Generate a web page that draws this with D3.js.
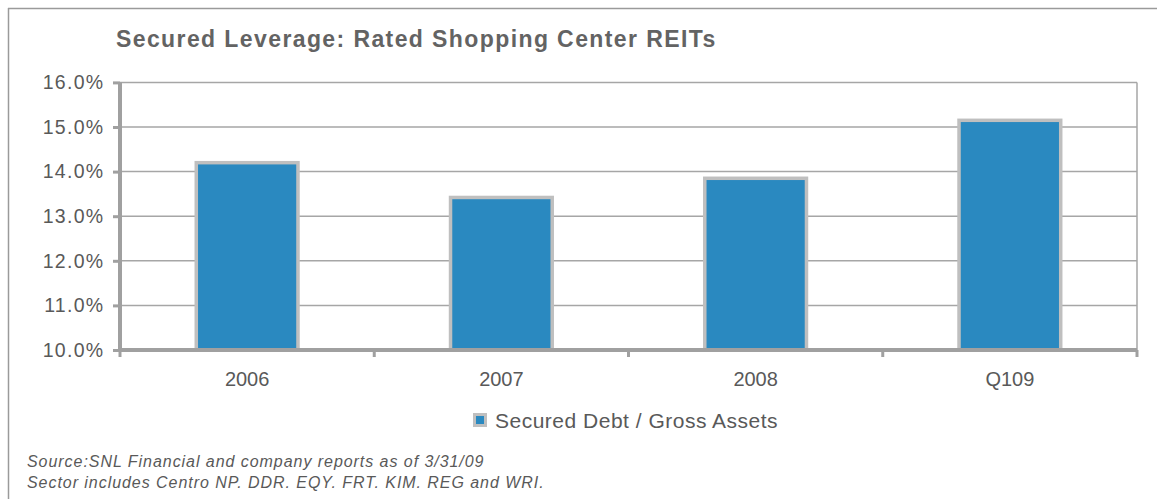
<!DOCTYPE html>
<html>
<head>
<meta charset="utf-8">
<script src="https://cdn.jsdelivr.net/npm/d3@7"></script>
<style>
  html, body { margin: 0; padding: 0; background: #fff; }
  svg { display: block; font-family: "Liberation Sans", Arial, sans-serif; }
</style>
</head>
<body>
<svg id="chart" width="1157" height="499"></svg>
<script>
const categories = ["2006", "2007", "2008", "Q109"];
const values = [14.2, 13.42, 13.85, 15.15];
const yTicks = [10, 11, 12, 13, 14, 15, 16];
const seriesName = "Secured Debt / Gross Assets";
const title = "Secured Leverage: Rated Shopping Center REITs";
const footnotes = [
  "Source:SNL Financial and company reports as of 3/31/09",
  "Sector includes Centro NP. DDR. EQY. FRT. KIM. REG and WRI."
];

const svg = d3.select("#chart");
const W = 1157, H = 499;
const plot = { left: 120, right: 1137, top: 82.4, bottom: 350 };

// outer frame (left + top)
svg.append("line").attr("x1", 8.5).attr("x2", 8.5).attr("y1", 8).attr("y2", H)
  .attr("stroke", "#9a9a9a").attr("stroke-width", 1.5);
svg.append("line").attr("x1", 8).attr("x2", W).attr("y1", 8.5).attr("y2", 8.5)
  .attr("stroke", "#9a9a9a").attr("stroke-width", 1.5);

// title
svg.append("text").attr("x", 116).attr("y", 47)
  .attr("font-size", 23).attr("font-weight", "bold").attr("fill", "#636363")
  .attr("letter-spacing", 1.4)
  .text(title);

const x = d3.scaleBand().domain(categories).range([plot.left, plot.right])
  .paddingInner(0.6).paddingOuter(0.3);
const xCat = d3.scaleBand().domain(categories).range([plot.left, plot.right]).padding(0);
const y = d3.scaleLinear().domain([10, 16]).range([plot.bottom, plot.top]);

// gridlines
svg.append("g").selectAll("line").data(yTicks.filter(t => t > 10)).join("line")
  .attr("x1", plot.left).attr("x2", plot.right)
  .attr("y1", d => y(d)).attr("y2", d => y(d))
  .attr("stroke", "#a6a6a6").attr("stroke-width", 1.5);

// right border of plot
svg.append("line").attr("x1", plot.right).attr("x2", plot.right)
  .attr("y1", plot.top).attr("y2", plot.bottom)
  .attr("stroke", "#a6a6a6").attr("stroke-width", 1.5);

// bars
svg.append("g").selectAll("rect").data(categories).join("rect")
  .attr("x", d => x(d))
  .attr("width", x.bandwidth())
  .attr("y", (d, i) => y(values[i]))
  .attr("height", (d, i) => y(10) - y(values[i]))
  .attr("fill", "#2a89c0")
  .attr("stroke", "#bfbfbf").attr("stroke-width", 3.5);

// y axis
const yAxis = d3.axisLeft(y).tickValues(yTicks).tickSize(7).tickPadding(8.5)
  .tickFormat(d => d3.format(".1f")(d) + "%");
const gy = svg.append("g").attr("transform", `translate(${plot.left},0)`).call(yAxis);
gy.select(".domain").attr("stroke", "#a0a0a0").attr("stroke-width", 4)
  .attr("d", `M0,${plot.top}V${plot.bottom}`);
gy.selectAll(".tick line").attr("stroke", "#a0a0a0").attr("stroke-width", 3);
gy.selectAll(".tick text").attr("font-size", 19.5).attr("fill", "#595959")
  .attr("letter-spacing", 1.3)
  .attr("font-family", "Liberation Sans, Arial, sans-serif");

// x axis
const xAxis = d3.axisBottom(xCat).tickSize(0).tickPadding(22);
const gx = svg.append("g").attr("transform", `translate(0,${plot.bottom})`).call(xAxis);
gx.select(".domain").attr("stroke", "#a0a0a0").attr("stroke-width", 4)
  .attr("d", `M${plot.left},0H${plot.right}`);
gx.selectAll(".tick text").attr("font-size", 20).attr("fill", "#595959")
  .attr("font-family", "Liberation Sans, Arial, sans-serif");
// category boundary ticks
const bounds = categories.map(c => xCat(c)).concat([xCat(categories[3]) + xCat.bandwidth()]);
svg.append("g").selectAll("line").data(bounds).join("line")
  .attr("x1", d => d).attr("x2", d => d)
  .attr("y1", plot.bottom).attr("y2", plot.bottom + 7)
  .attr("stroke", "#a0a0a0").attr("stroke-width", 3);

// legend
const lg = svg.append("g").attr("transform", "translate(473,413)");
lg.append("rect").attr("x", 1.5).attr("y", 1.5).attr("width", 11).attr("height", 11)
  .attr("fill", "#2a89c0").attr("stroke", "#bfbfbf").attr("stroke-width", 3);
lg.append("text").attr("x", 22).attr("y", 14.5).attr("font-size", 21).attr("fill", "#595959")
  .attr("letter-spacing", 0.5)
  .text(seriesName);

// footnotes
svg.append("g").selectAll("text").data(footnotes).join("text")
  .attr("x", 27).attr("y", (d, i) => 466.5 + i * 21.5)
  .attr("font-size", 16).attr("font-style", "italic").attr("fill", "#595959")
  .attr("letter-spacing", 0.95)
  .text(d => d);
</script>
</body>
</html>
